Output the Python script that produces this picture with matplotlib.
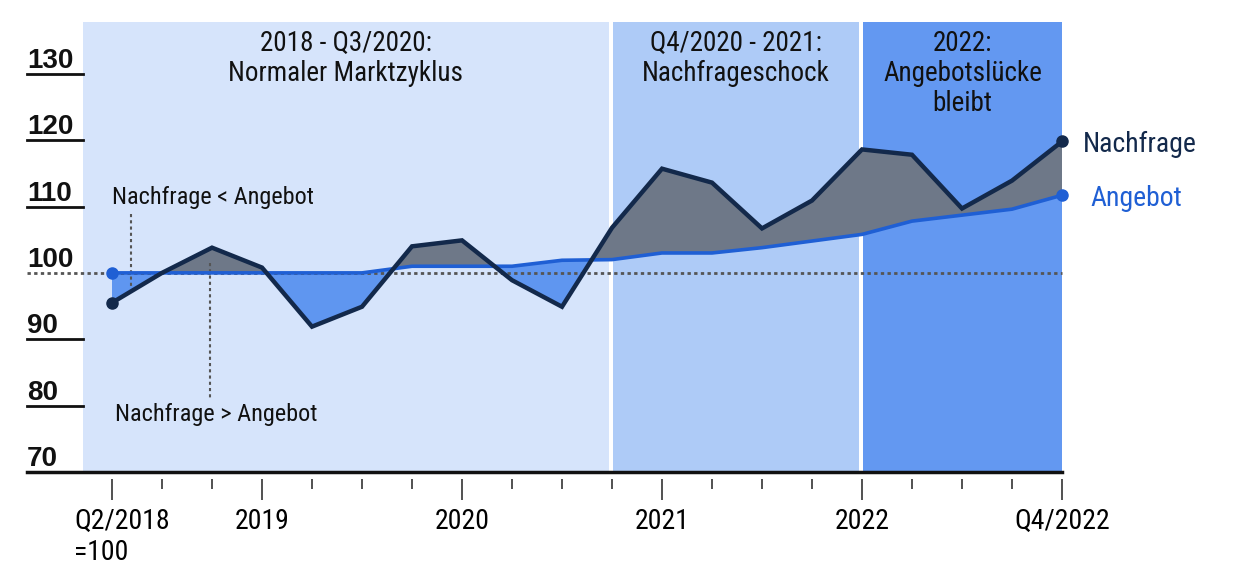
import matplotlib
matplotlib.use("Agg")
import matplotlib.pyplot as plt
import matplotlib.transforms as mtransforms
from matplotlib import font_manager
import numpy as np

# Quartale Q2/2018 ... Q4/2022 (Index 0..19), Q2/2018 = 100
quartale = np.arange(20)
nachfrage = [95.5, 100.0, 103.8, 100.8, 91.9, 94.9, 104.0, 104.9, 98.9, 94.9,
             106.8, 115.7, 113.6, 106.7, 110.9, 118.6, 117.8, 109.7, 113.9, 119.8]
angebot = [100.0, 100.0, 100.0, 100.0, 100.0, 100.0, 101.0, 101.0, 101.0, 101.9,
           102.0, 103.0, 103.0, 103.8, 104.8, 105.8, 107.8, 108.7, 109.6, 111.7]

major_ticks = [0, 3, 7, 11, 15, 19]
major_labels = ["Q2/2018\n=100", "2019", "2020", "2021", "2022", "Q4/2022"]
y_werte = [70, 80, 90, 100, 110, 120, 130]

phasen_start = [-0.58, 10.02, 15.02]
phasen_ende = [9.94, 14.94, 19.0]
phasen_text = ["2018 - Q3/2020:\nNormaler Marktzyklus",
               "Q4/2020 - 2021:\nNachfrageschock",
               "2022:\nAngebotslücke\nbleibt"]
phasen_farbe = ["#d6e4fb", "#aecbf7", "#6398f1"]

c_nach = "#13294b"
c_ang = "#1f5fd4"
c_grau = "#6e7888"
c_blau = "#5f96f0"
c_dot = "#555555"

# schmale Schrift wenn vorhanden
namen = {f.name for f in font_manager.fontManager.ttflist}
narrow = "Liberation Sans"
for kand in ["Liberation Sans Narrow", "Arial Narrow", "Roboto Condensed", "DejaVu Sans Condensed"]:
    if kand in namen:
        narrow = kand
        break
plt.rcParams["font.family"] = [narrow, "DejaVu Sans"]

fig = plt.figure(figsize=(12.34, 5.74), dpi=100)
ax = fig.add_axes([83 / 1234, 1 - 472 / 574, 979 / 1234, 450 / 574])
ax.set_xlim(-0.58, 19)
ax.set_ylim(70, 137.8)

for s, e, farbe in zip(phasen_start, phasen_ende, phasen_farbe):
    ax.axvspan(s, e, color=farbe, lw=0, zorder=0)
for s, e, txt in zip(phasen_start, phasen_ende, phasen_text):
    ax.text((s + e) / 2, 0.982, txt, transform=ax.get_xaxis_transform(),
            ha="center", va="top", fontsize=19.5, linespacing=1.13, color="#111111")

# Flaechen zwischen den Linien
n = np.array(nachfrage)
a = np.array(angebot)
ax.fill_between(quartale, n, a, where=n >= a, interpolate=True, color=c_grau, lw=0, zorder=2)
ax.fill_between(quartale, n, a, where=n < a, interpolate=True, color=c_blau, lw=0, zorder=2)

# 100-Linie gepunktet
trans_y = ax.get_yaxis_transform()
ax.plot([-0.0572, 1], [100, 100], transform=trans_y, color=c_dot, lw=2,
        ls=(0, (1.2, 1.2)), clip_on=False, zorder=3)

ax.plot(quartale, angebot, color=c_ang, lw=2.6, zorder=4, solid_joinstyle="miter")
ax.plot(quartale, nachfrage, color=c_nach, lw=3.2, zorder=5, solid_joinstyle="miter")
ax.plot([quartale[0], quartale[-1]], [angebot[0], angebot[-1]], "o", color=c_ang, ms=8,
        zorder=6, clip_on=False)
ax.plot([quartale[0], quartale[-1]], [nachfrage[0], nachfrage[-1]], "o", color=c_nach, ms=8,
        zorder=6, clip_on=False)

ax.annotate("Nachfrage", xy=(quartale[-1], nachfrage[-1]), xytext=(21, -3),
            textcoords="offset pixels", ha="left", va="center", fontsize=20,
            color=c_nach, annotation_clip=False)
ax.annotate("Angebot", xy=(quartale[-1], angebot[-1]), xytext=(28, -3),
            textcoords="offset pixels", ha="left", va="center", fontsize=20,
            color=c_ang, annotation_clip=False)

# Hinweise
ax.text(0.0, 111.3, "Nachfrage < Angebot", fontsize=17.5, ha="left", va="center", color="#111111")
ax.plot([0.38, 0.38], [108.9, 98.0], color=c_dot, lw=1.5, ls=(0, (1.5, 1.5)), zorder=3)
ax.text(0.06, 78.6, "Nachfrage > Angebot", fontsize=17.5, ha="left", va="center", color="#111111")
ax.plot([1.96, 1.96], [101.5, 80.9], color=c_dot, lw=1.5, ls=(0, (1.5, 1.5)), zorder=3)

# y-Achse: Beschriftung ueber kurzen Linien
for v in y_werte:
    off = mtransforms.offset_copy(trans_y, fig=fig, x=0, y=6, units="dots")
    ax.text(-0.0572, v, str(v), transform=off, ha="left", va="baseline",
            fontsize=20, fontweight="bold", family="Liberation Sans", color="#111111")
    if v not in (70, 100):
        ax.plot([-0.0572, 0], [v, v], transform=trans_y, color="#111111", lw=2, clip_on=False)
ax.plot([-0.0572, 1], [70, 70], transform=trans_y, color="#111111", lw=2.5, clip_on=False, zorder=6)

ax.set_yticks([])
for sp in ["left", "right", "top"]:
    ax.spines[sp].set_visible(False)
ax.spines["bottom"].set_position(("outward", 5))
ax.spines["bottom"].set_visible(False)

ax.set_xticks(major_ticks)
ax.set_xticklabels(major_labels, fontsize=20)
ax.set_xticks([q for q in quartale if q not in major_ticks], minor=True)
ax.tick_params(axis="x", which="major", length=15, width=1.2, color="#333333", pad=6)
ax.tick_params(axis="x", which="minor", length=7.5, width=1.2, color="#333333")

erste = ax.get_xticklabels()[0]
erste.set_horizontalalignment("left")
erste.set_multialignment("left")
erste.set_transform(erste.get_transform() +
                    mtransforms.ScaledTranslation(-38 / 100, 0, fig.dpi_scale_trans))

fig.savefig("out.png", dpi=100)
